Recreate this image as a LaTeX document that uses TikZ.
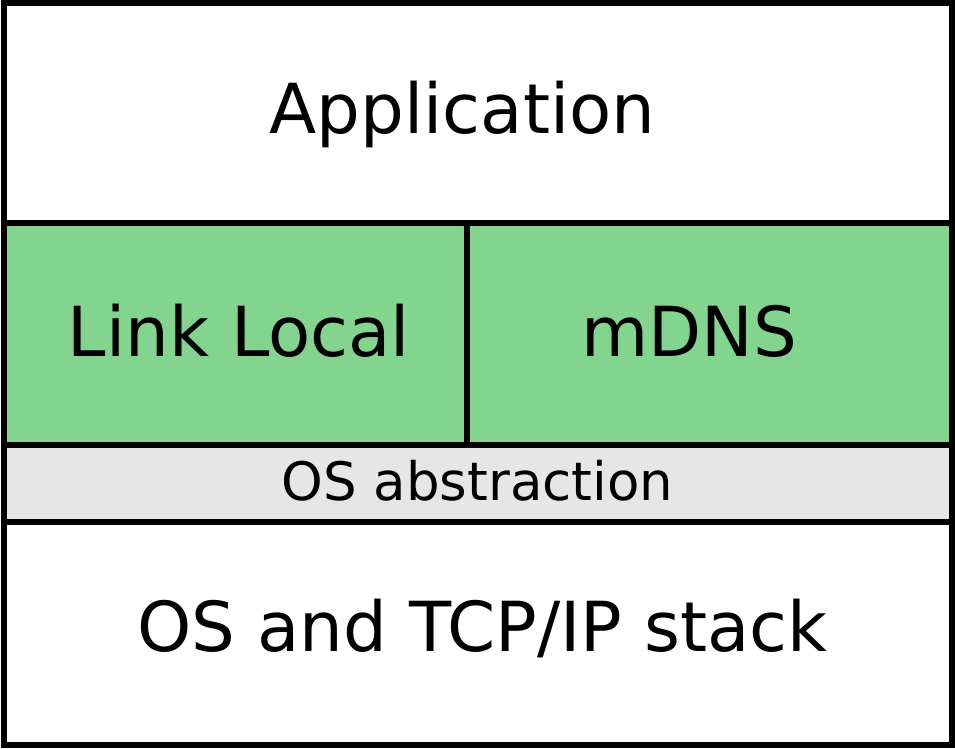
\documentclass[tikz,border=0pt]{standalone}
\usepackage{fontspec}
\setmainfont{DejaVu Sans}
\usepackage{tikz}
\tikzset{
	layer/.style={draw=black, line width=6pt},
	label/.style={inner sep=0pt, anchor=base, font=\fontsize{69}{80}\selectfont},
	smalllabel/.style={inner sep=0pt, anchor=base, font=\fontsize{53}{60}\selectfont}
}
\definecolor{linkgreen}{HTML}{82D48F}
\definecolor{osgray}{HTML}{E6E6E6}

\begin{document}
\begin{tikzpicture}[x=1pt, y=1pt]
		%%%%% START %%%%%
		\useasboundingbox (0, 0) rectangle (955, 749);
		
		\draw[layer, fill=white] (3.5, 526) rectangle (951.5, 745.5);
		\draw[layer, fill=linkgreen] (3.5, 304) rectangle (467, 526);
		\draw[layer, fill=linkgreen] (467, 304) rectangle (951.5, 526);
		\draw[layer, fill=osgray] (3.5, 226.5) rectangle (951.5, 304);
		\draw[layer, fill=white] (3.5, 3.5) rectangle (951.5, 226.5);
		
		\node[label] (app) at (462.5, 615.5) {Application};
		\node[label] (linklocal) at (239, 392.5) {Link Local};
		\node[label] (mdns) at (689, 392.5) {mDNS};
		\node[smalllabel] (osabs) at (477.5, 248) {OS abstraction};
		\node[label] (osstack) at (482.5, 97) {OS and TCP/IP stack};
		
		%%%%% END %%%%%
	\end{tikzpicture}
\end{document}
